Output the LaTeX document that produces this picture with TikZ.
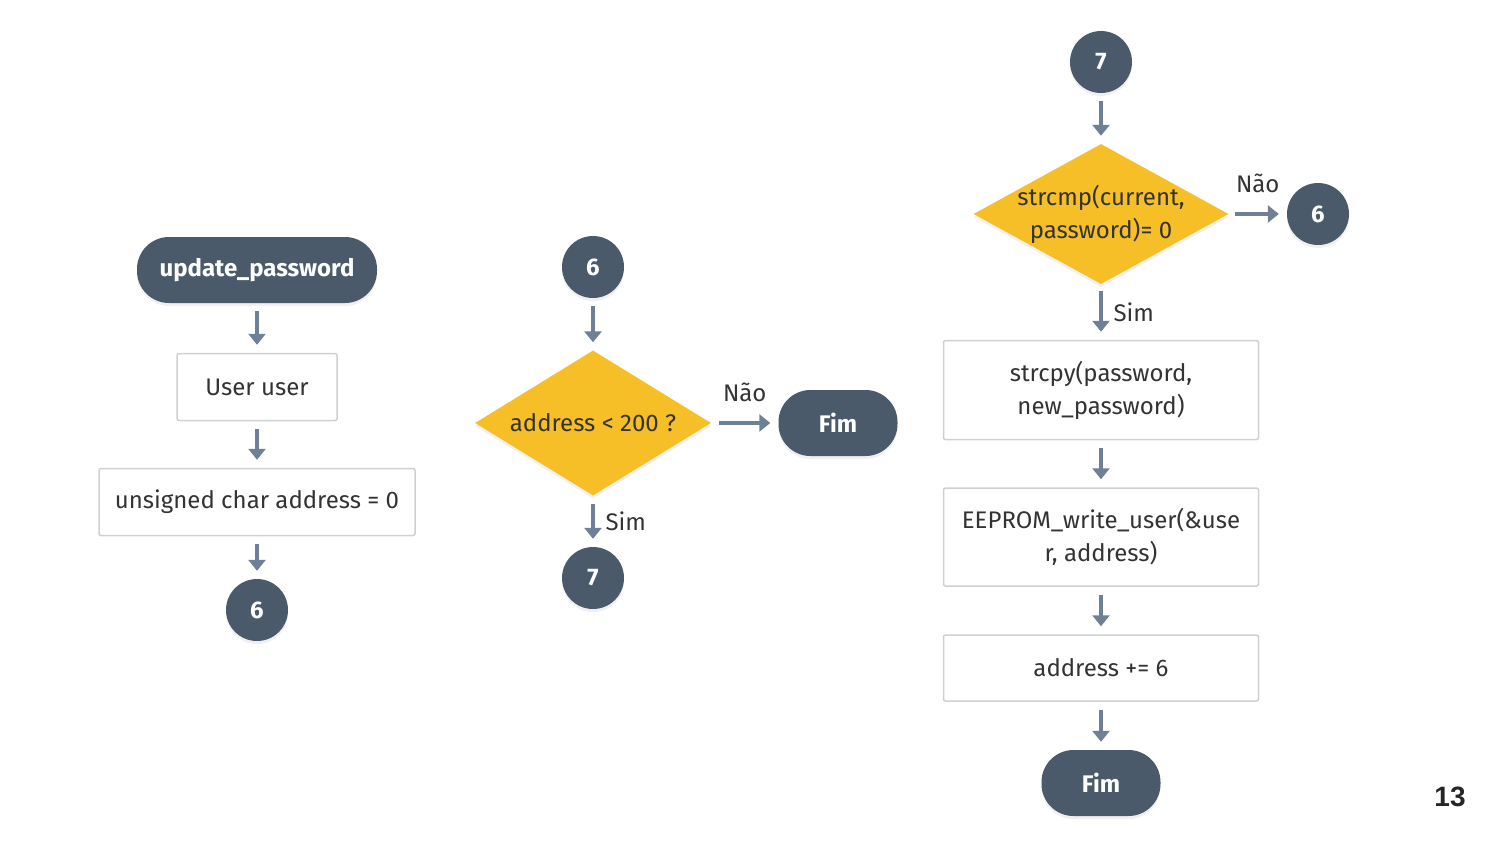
\documentclass[tikz,border=0pt]{standalone}
\usepackage{fontspec}
\setmainfont{Fira Sans}
\newfontfamily\pagefont{Liberation Sans}
\usetikzlibrary{arrows.meta, shapes.geometric, shadows}

\definecolor{slate}{HTML}{4A5A6A}
\definecolor{amber}{HTML}{F6BE27}
\definecolor{steel}{HTML}{6E8096}
\definecolor{boxline}{HTML}{CDD1D5}
\definecolor{ink}{HTML}{333333}

\tikzset{
    soft/.style={drop shadow={opacity=0.12, shadow xshift=0pt, shadow yshift=-3pt}},
    terminal/.style={rectangle, fill=slate, text=white, rounded corners=32pt, soft,
        minimum height=66pt, inner sep=0pt, font=\fontsize{24}{28}\selectfont\bfseries},
    process/.style={rectangle, draw=boxline, line width=1.5pt, fill=white, text=ink,
        rounded corners=2pt, align=center, inner sep=0pt, font=\fontsize{24}{33}\selectfont},
    decision/.style={diamond, fill=amber, text=ink, align=center, inner sep=0pt, soft,
        font=\fontsize{24}{33}\selectfont},
    connector/.style={circle, fill=slate, text=white, minimum size=62pt, inner sep=0pt, soft,
        font=\fontsize{24}{28}\selectfont\bfseries},
    flow/.style={-{Triangle[width=17pt,length=11pt]}, line width=4.5pt, draw=steel,
        shorten <=8pt, shorten >=8pt},
    answer/.style={text=ink, font=\fontsize{24}{28}\selectfont}
}

\begin{document}
\begin{tikzpicture}[x=1pt, y=-1pt]
    \useasboundingbox (0,0) rectangle (1500,844);

    % left column
    \node [terminal, minimum width=240pt] (start) at (257,270) {update\_password};
    \node [process, minimum width=160pt, minimum height=67pt] (user) at (257,387) {User user};
    \node [process, minimum width=316pt, minimum height=67pt] (addr) at (257,502) {unsigned char address = 0};
    \node [connector] (outsix) at (257,610) {6};
    \draw [flow] (start) -- (user);
    \draw [flow] (user) -- (addr);
    \draw [flow] (addr) -- (outsix);

    % middle column
    \node [connector] (insix) at (593,267) {6};
    \node [decision, aspect=1.63, minimum width=236pt, minimum height=145pt] (limit) at (593,423) {address < 200 ?};
    \node [terminal, minimum width=119pt] (stopa) at (838,423) {Fim};
    \node [connector] (outseven) at (593,578) {7};
    \draw [flow] (insix) -- (limit);
    \draw [flow] (limit) -- (stopa) node [answer, midway, above, yshift=16pt] {Não};
    \draw [flow] (limit) -- (outseven) node [answer, midway, right, xshift=7pt] {Sim};

    % right column
    \node [connector] (inseven) at (1101,62) {7};
    \node [decision, aspect=1.82, inner sep=-12pt, minimum width=255pt, minimum height=140pt] (check) at (1101,214) {strcmp(current,\\password)= 0};
    \node [connector] (backsix) at (1318,214) {6};
    \node [process, minimum width=315pt, minimum height=99pt] (copy) at (1101,390) {strcpy(password,\\new\_password)};
    \node [process, minimum width=315pt, minimum height=98pt] (write) at (1101,537) {EEPROM\_write\_user(\&use\\r, address)};
    \node [process, minimum width=315pt, minimum height=66pt] (step) at (1101,668) {address += 6};
    \node [terminal, minimum width=119pt] (stopb) at (1101,783) {Fim};
    \draw [flow] (inseven) -- (check);
    \draw [flow, shorten <=6pt] (check) -- (backsix) node [answer, midway, above, yshift=16pt] {Não};
    \draw [flow, shorten <=7pt] (check) -- (copy) node [answer, midway, right, xshift=7pt] {Sim};
    \draw [flow] (copy) -- (write);
    \draw [flow] (write) -- (step);
    \draw [flow] (step) -- (stopb);

    \node [font=\pagefont\fontsize{28}{32}\selectfont\bfseries, text=black!85] (page) at (1450,797) {13};
\end{tikzpicture}
\end{document}
